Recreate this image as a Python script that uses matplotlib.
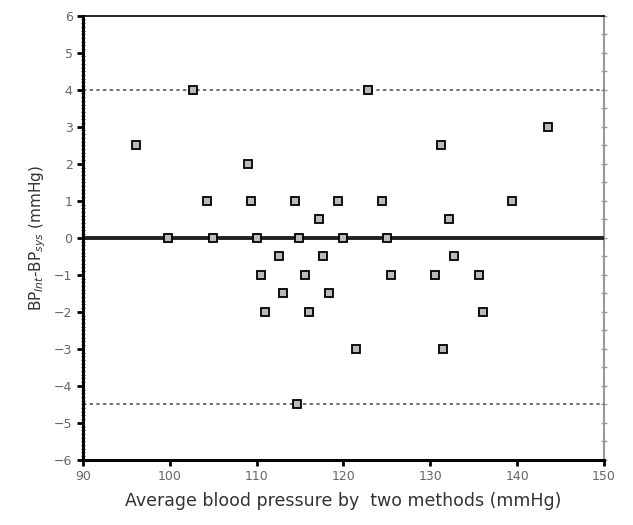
import numpy as np
import matplotlib
matplotlib.use("Agg")
import matplotlib.pyplot as plt
from matplotlib.ticker import MultipleLocator

# mean of the two methods (mmHg)
avg_bp = [96.1, 102.7, 99.8, 104.3, 105.0, 109.0, 109.4, 110.1, 110.5, 111.0,
          112.6, 113.1, 114.4, 114.9, 114.7, 115.6, 116.0, 117.2, 117.7, 118.3,
          119.4, 120.0, 121.4, 122.8, 124.4, 125.0, 125.5, 130.5, 131.2, 131.5,
          132.2, 132.7, 135.6, 136.1, 139.4, 143.6]
# difference BP_int - BP_sys (mmHg)
diff_bp = [2.5, 4, 0, 1, 0, 2, 1, 0, -1, -2,
           -0.5, -1.5, 1, 0, -4.5, -1, -2, 0.5, -0.5, -1.5,
           1, 0, -3, 4, 1, 0, -1, -1, 2.5, -3,
           0.5, -0.5, -1, -2, 1, 3]

mean_diff = 0
upper_loa = 4
lower_loa = -4.5

fig = plt.figure(figsize=(6.33, 5.25), dpi=100)
ax = fig.add_axes([0.131, 0.124, 0.823, 0.846])

ax.axhline(upper_loa, color='#555555', ls=(0, (2, 2)), lw=1.2, zorder=1)
ax.axhline(lower_loa, color='#555555', ls=(0, (2, 2)), lw=1.2, zorder=1)
ax.axhline(mean_diff, color='#222222', lw=2.8, zorder=1)

ax.plot(avg_bp, diff_bp, ls='none', marker='s', ms=6, mfc='#bbbbbb',
        mec='black', mew=1.3, zorder=3)

ax.set_xlim(90, 150)
ax.set_ylim(-6, 6)
ax.xaxis.set_major_locator(MultipleLocator(10))
ax.yaxis.set_major_locator(MultipleLocator(1))
ax.yaxis.set_minor_locator(MultipleLocator(0.1))

for s in ['left', 'bottom']:
    ax.spines[s].set_linewidth(2.2)
ax.spines['top'].set_linewidth(1.2)
ax.spines['right'].set_visible(False)

ax.tick_params(axis='both', which='major', direction='out', length=4, width=2,
               labelsize=9, labelcolor='#666666', color='black')
ax.tick_params(axis='y', which='minor', direction='inout', length=3, width=0.8,
               color='#444444')

# light right-hand axis with small ticks
rax = ax.secondary_yaxis('right')
rax.spines['right'].set_color('#999999')
rax.spines['right'].set_linewidth(1.5)
rax.yaxis.set_major_locator(MultipleLocator(0.5))
rax.tick_params(direction='inout', length=4, width=1, color='#999999',
                labelright=False)

ax.set_xlabel('Average blood pressure by  two methods (mmHg)', fontsize=12.5,
              color='#333333', labelpad=6)
ax.set_ylabel(r'BP$_{Int}$-BP$_{sys}$ (mmHg)', fontsize=11, color='#333333',
              labelpad=4)

fig.savefig('out.png', dpi=100)
